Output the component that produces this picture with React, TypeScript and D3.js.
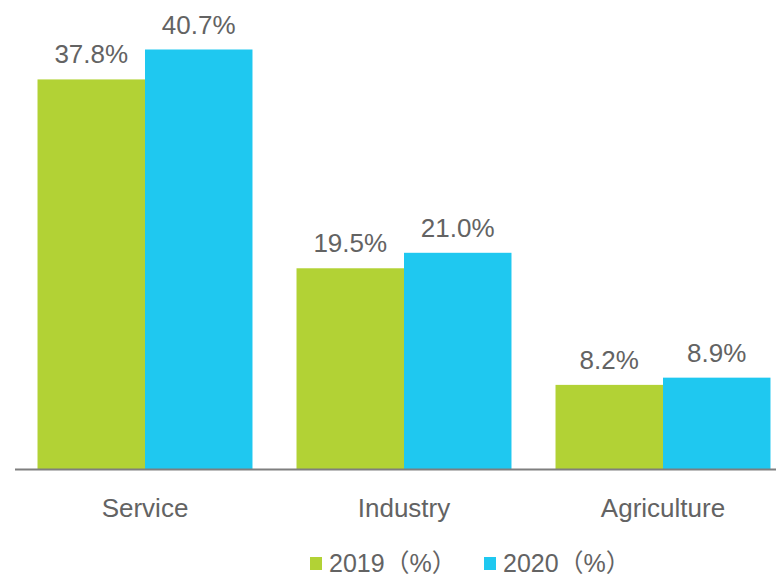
import React from 'react';
import * as d3 from 'd3';

const categories = ['Service', 'Industry', 'Agriculture'];
const seriesNames = ['2019（%）', '2020（%）'];
const values2019 = [37.8, 19.5, 8.2];
const values2020 = [40.7, 21.0, 8.9];
const seriesColors = ['#B2D235', '#1FC8F0'];

const WIDTH = 776;
const HEIGHT = 577;
const BASELINE = 469.5;
const TOP = 49.5;
const FONT = '"Liberation Sans", Arial, "Noto Sans CJK SC", sans-serif';
const TEXT_COLOR = '#636363';

const App: React.FC = () => {
  const series = [values2019, values2020];

  const x0 = d3
    .scaleBand<string>()
    .domain(categories)
    .range([15.5, 792.5])
    .paddingInner(0.17)
    .paddingOuter(0.085);

  const x1 = d3
    .scaleBand<number>()
    .domain(series.map((_, i) => i))
    .range([0, x0.bandwidth()]);

  const maxValue = d3.max(values2020.concat(values2019)) || 1;
  const y = d3.scaleLinear().domain([0, maxValue]).range([BASELINE, TOP]);

  // legend layout
  const legendX = [310, 484];

  return (
    <svg
      width={WIDTH}
      height={HEIGHT}
      style={{ position: 'absolute', left: 0, top: 0, display: 'block', background: '#fff' }}
      fontFamily={FONT}
    >
      {categories.map((cat, ci) => (
        <g key={cat} transform={`translate(${x0(cat)},0)`}>
          {series.map((vals, si) => {
            const v = vals[ci];
            const bx = x1(si) || 0;
            const bw = x1.bandwidth();
            return (
              <g key={si}>
                <rect
                  x={bx}
                  y={y(v)}
                  width={bw}
                  height={BASELINE - y(v)}
                  fill={seriesColors[si]}
                />
                <text
                  x={bx + bw / 2}
                  y={y(v) - 16}
                  textAnchor="middle"
                  fontSize={26}
                  fill={TEXT_COLOR}
                >
                  {v.toFixed(1)}%
                </text>
              </g>
            );
          })}
          <text
            x={x0.bandwidth() / 2}
            y={517}
            textAnchor="middle"
            fontSize={26}
            fill={TEXT_COLOR}
          >
            {cat}
          </text>
        </g>
      ))}

      {/* axis line */}
      <line x1={15} x2={WIDTH} y1={BASELINE} y2={BASELINE} stroke="#7f7f7f" strokeWidth={2} />

      {/* legend */}
      {seriesNames.map((name, i) => (
        <g key={name} transform={`translate(${legendX[i]},0)`}>
          <rect x={0} y={557} width={12} height={13} fill={seriesColors[i]} />
          <text x={19} y={572} fontSize={25} fill={TEXT_COLOR}>
            {name}
          </text>
        </g>
      ))}
    </svg>
  );
};

export default App;
